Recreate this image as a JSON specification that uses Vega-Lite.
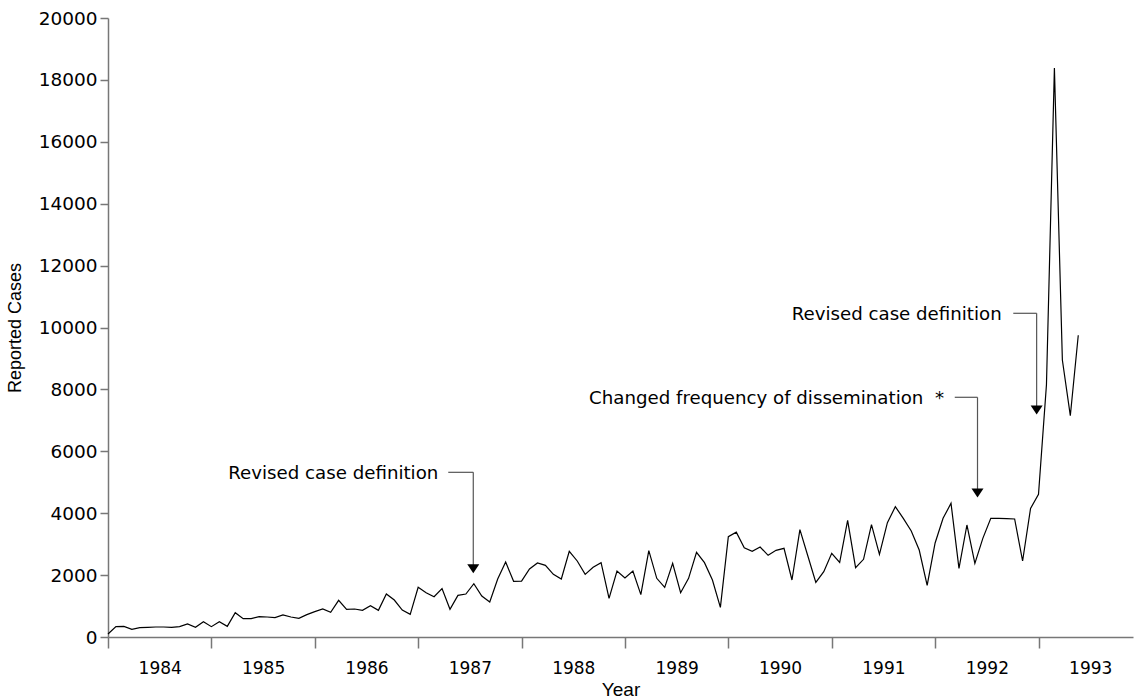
{
  "$schema": "https://vega.github.io/schema/vega-lite/v6.json",
  "autosize": {"type": "none"},
  "width": 1025,
  "height": 619,
  "padding": {"left": 108, "top": 18, "right": 4, "bottom": 62},
  "background": "white",
  "config": {
    "view": {"stroke": null},
    "axis": {"grid": false}
  },
  "datasets": {
    "cases": [
      {"t": 1984.0000, "cases": 97}, {"t": 1984.0769, "cases": 334}, {"t": 1984.1538, "cases": 345}, {"t": 1984.2308, "cases": 248}, {"t": 1984.3077, "cases": 302}, {"t": 1984.3846, "cases": 312}, {"t": 1984.4615, "cases": 323}, {"t": 1984.5385, "cases": 323}, {"t": 1984.6154, "cases": 312}, {"t": 1984.6923, "cases": 334}, {"t": 1984.7692, "cases": 420}, {"t": 1984.8462, "cases": 312}, {"t": 1984.9231, "cases": 495},
      {"t": 1985.0000, "cases": 334}, {"t": 1985.0769, "cases": 495}, {"t": 1985.1538, "cases": 345}, {"t": 1985.2308, "cases": 786}, {"t": 1985.3077, "cases": 592}, {"t": 1985.3846, "cases": 592}, {"t": 1985.4615, "cases": 657}, {"t": 1985.5385, "cases": 646}, {"t": 1985.6154, "cases": 625}, {"t": 1985.6923, "cases": 711}, {"t": 1985.7692, "cases": 646}, {"t": 1985.8462, "cases": 603}, {"t": 1985.9231, "cases": 722},
      {"t": 1986.0000, "cases": 818}, {"t": 1986.0769, "cases": 905}, {"t": 1986.1538, "cases": 797}, {"t": 1986.2308, "cases": 1185}, {"t": 1986.3077, "cases": 894}, {"t": 1986.3846, "cases": 905}, {"t": 1986.4615, "cases": 862}, {"t": 1986.5385, "cases": 1012}, {"t": 1986.6154, "cases": 862}, {"t": 1986.6923, "cases": 1389}, {"t": 1986.7692, "cases": 1195}, {"t": 1986.8462, "cases": 872}, {"t": 1986.9231, "cases": 732},
      {"t": 1987.0000, "cases": 1605}, {"t": 1987.0769, "cases": 1432}, {"t": 1987.1538, "cases": 1303}, {"t": 1987.2308, "cases": 1562}, {"t": 1987.3077, "cases": 894}, {"t": 1987.3846, "cases": 1346}, {"t": 1987.4615, "cases": 1389}, {"t": 1987.5385, "cases": 1723}, {"t": 1987.6154, "cases": 1325}, {"t": 1987.6923, "cases": 1131}, {"t": 1987.7692, "cases": 1874}, {"t": 1987.8462, "cases": 2423}, {"t": 1987.9231, "cases": 1799},
      {"t": 1988.0000, "cases": 1804}, {"t": 1988.0769, "cases": 2197}, {"t": 1988.1538, "cases": 2390}, {"t": 1988.2308, "cases": 2316}, {"t": 1988.3077, "cases": 2025}, {"t": 1988.3846, "cases": 1874}, {"t": 1988.4615, "cases": 2768}, {"t": 1988.5385, "cases": 2456}, {"t": 1988.6154, "cases": 2025}, {"t": 1988.6923, "cases": 2251}, {"t": 1988.7692, "cases": 2402}, {"t": 1988.8462, "cases": 1249}, {"t": 1988.9231, "cases": 2132},
      {"t": 1989.0000, "cases": 1906}, {"t": 1989.0769, "cases": 2132}, {"t": 1989.1538, "cases": 1368}, {"t": 1989.2308, "cases": 2789}, {"t": 1989.3077, "cases": 1896}, {"t": 1989.3846, "cases": 1605}, {"t": 1989.4615, "cases": 2380}, {"t": 1989.5385, "cases": 1432}, {"t": 1989.6154, "cases": 1896}, {"t": 1989.6923, "cases": 2736}, {"t": 1989.7692, "cases": 2402}, {"t": 1989.8462, "cases": 1842}, {"t": 1989.9231, "cases": 958},
      {"t": 1990.0000, "cases": 3242}, {"t": 1990.0769, "cases": 3388}, {"t": 1990.1538, "cases": 2880}, {"t": 1990.2308, "cases": 2768}, {"t": 1990.3077, "cases": 2908}, {"t": 1990.3846, "cases": 2639}, {"t": 1990.4615, "cases": 2800}, {"t": 1990.5385, "cases": 2865}, {"t": 1990.6154, "cases": 1842}, {"t": 1990.6923, "cases": 3468}, {"t": 1990.7692, "cases": 2617}, {"t": 1990.8462, "cases": 1766}, {"t": 1990.9231, "cases": 2111},
      {"t": 1991.0000, "cases": 2703}, {"t": 1991.0769, "cases": 2413}, {"t": 1991.1538, "cases": 3770}, {"t": 1991.2308, "cases": 2240}, {"t": 1991.3077, "cases": 2510}, {"t": 1991.3846, "cases": 3630}, {"t": 1991.4615, "cases": 2671}, {"t": 1991.5385, "cases": 3694}, {"t": 1991.6154, "cases": 4211}, {"t": 1991.6923, "cases": 3834}, {"t": 1991.7692, "cases": 3425}, {"t": 1991.8462, "cases": 2811}, {"t": 1991.9231, "cases": 1670},
      {"t": 1992.0000, "cases": 3038}, {"t": 1992.0769, "cases": 3834}, {"t": 1992.1538, "cases": 4319}, {"t": 1992.2308, "cases": 2219}, {"t": 1992.3077, "cases": 3619}, {"t": 1992.3846, "cases": 2380}, {"t": 1992.4615, "cases": 3188}, {"t": 1992.5385, "cases": 3834}, {"t": 1992.6154, "cases": 3834}, {"t": 1992.6923, "cases": 3823}, {"t": 1992.7692, "cases": 3813}, {"t": 1992.8462, "cases": 2456}, {"t": 1992.9231, "cases": 4157},
      {"t": 1993.0000, "cases": 4610}, {"t": 1993.0769, "cases": 8150}, {"t": 1993.1538, "cases": 18380}, {"t": 1993.2308, "cases": 8950}, {"t": 1993.3077, "cases": 7150}, {"t": 1993.3846, "cases": 9750}
    ],
    "notes": [
      {"label": "Revised case definition", "tx": 1987.195, "lx1": 1987.291, "lx2": 1987.533, "ly": 5321, "ay": 2204},
      {"label": "Changed frequency of dissemination\u00a0 *", "tx": 1992.086, "lx1": 1992.19, "lx2": 1992.41, "ly": 7745, "ay": 4653},
      {"label": "Revised case definition", "tx": 1992.644, "lx1": 1992.756, "lx2": 1992.982, "ly": 10459, "ay": 7334}
    ]
  },
  "layer": [
    {
      "data": {"name": "cases"},
      "mark": {"type": "line", "color": "black", "strokeWidth": 1.2, "interpolate": "linear"},
      "encoding": {
        "x": {
          "field": "t", "type": "quantitative",
          "scale": {"domain": [1984, 1993.914], "nice": false, "zero": false},
          "axis": {
            "values": [1984, 1985, 1986, 1987, 1988, 1989, 1990, 1991, 1992, 1993],
            "format": "d",
            "labelOffset": 51.7,
            "labelFlush": false,
            "labelOverlap": false,
            "labelFont": "DejaVu Sans",
            "labelFontSize": 17,
            "labelColor": "black",
            "labelPadding": 12,
            "tickSize": 11,
            "tickColor": "#777777",
            "tickWidth": 1.5,
            "domainColor": "#777777",
            "domainWidth": 1.5,
            "title": "Year",
            "titleFont": "Liberation Sans",
            "titleFontSize": 19,
            "titleFontWeight": "normal",
            "titleColor": "black",
            "titlePadding": 4
          }
        },
        "y": {
          "field": "cases", "type": "quantitative",
          "scale": {"domain": [0, 20000], "nice": false},
          "axis": {
            "values": [0, 2000, 4000, 6000, 8000, 10000, 12000, 14000, 16000, 18000, 20000],
            "format": "d",
            "labelFont": "DejaVu Sans",
            "labelFontSize": 18.5,
            "labelColor": "black",
            "labelPadding": 3,
            "tickSize": 8,
            "tickColor": "#777777",
            "tickWidth": 1.5,
            "domainColor": "#777777",
            "domainWidth": 1.5,
            "title": "Reported Cases",
            "titleFont": "Liberation Sans",
            "titleFontSize": 18,
            "titleFontWeight": "normal",
            "titleColor": "black",
            "titlePadding": 14
          }
        }
      }
    },
    {
      "data": {"name": "notes"},
      "mark": {"type": "rule", "color": "#555555", "strokeWidth": 1.2},
      "encoding": {
        "x": {"field": "lx1", "type": "quantitative"},
        "x2": {"field": "lx2"},
        "y": {"field": "ly", "type": "quantitative"}
      }
    },
    {
      "data": {"name": "notes"},
      "mark": {"type": "rule", "color": "#555555", "strokeWidth": 1.2},
      "encoding": {
        "x": {"field": "lx2", "type": "quantitative"},
        "y": {"field": "ly", "type": "quantitative"},
        "y2": {"field": "ay"}
      }
    },
    {
      "data": {"name": "notes"},
      "mark": {"type": "point", "shape": "M-1,-0.75L1,-0.75L0,0.75Z", "filled": true, "color": "black", "size": 144, "opacity": 1},
      "encoding": {
        "x": {"field": "lx2", "type": "quantitative"},
        "y": {"field": "ay", "type": "quantitative"}
      }
    },
    {
      "data": {"name": "notes"},
      "mark": {"type": "text", "align": "right", "baseline": "middle", "font": "DejaVu Sans", "fontSize": 18.2, "color": "black", "dy": 2},
      "encoding": {
        "x": {"field": "tx", "type": "quantitative"},
        "y": {"field": "ly", "type": "quantitative"},
        "text": {"field": "label"}
      }
    }
  ]
}
